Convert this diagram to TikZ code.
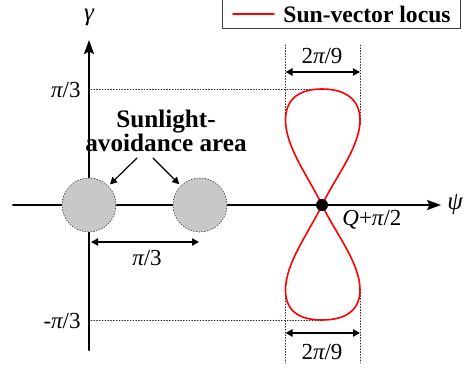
\documentclass[tikz,border=0pt]{standalone}
\usepackage{fontspec}
\setmainfont{Liberation Serif}
\usetikzlibrary{arrows.meta}

\begin{document}
\begin{tikzpicture}[x=0.5pt, y=-0.5pt, line cap=round, line join=round,
  axis/.style={line width=1pt, -{Stealth[length=7pt, width=5pt, inset=1.2pt]}},
  guide/.style={densely dotted, line width=0.4pt, black!85},
  dim/.style={line width=0.8pt, {Triangle[length=3.5pt, width=3.6pt]}-{Triangle[length=3.5pt, width=3.6pt]}},
  ptr/.style={line width=0.6pt, -{Triangle[length=3.5pt, width=3.6pt]}, shorten >=1pt},
  lab/.style={font=\fontsize{11.5}{12}\selectfont, inner sep=1pt}]
\definecolor{sunred}{HTML}{FF0000}
\definecolor{avoidgray}{HTML}{C8C8C8}
\useasboundingbox (0,0) rectangle (474,374);
% ---- axes ----
\coordinate (xs) at (13,205);
\coordinate (xe) at (441,205);
\coordinate (ys) at (89,350);
\coordinate (ye) at (89,40);
\draw[axis] (xs) -- (xe);
\draw[axis] (ys) -- (ye);
\node[lab, font=\fontsize{12.5}{12}\selectfont\itshape, anchor=west] (psi) at (445,205) {ψ};
\node[lab, font=\fontsize{12.5}{12}\selectfont\itshape] (gam) at (89,17) {γ};
\node[lab, anchor=east] (gtop) at (83,90) {{\itshape π}/3};
\node[lab, anchor=east] (gbot) at (83,321) {-{\itshape π}/3};
% ---- guide lines ----
\foreach \y/\n in {89/t, 320/b} {
  \coordinate (h\n a) at (91,\y);
  \coordinate (h\n b) at (322,\y);
  \draw[guide] (h\n a) -- (h\n b);
}
\foreach \x/\n in {285.5/l, 360/r} {
  \coordinate (v\n a) at (\x,45);
  \coordinate (v\n b) at (\x,125);
  \coordinate (v\n c) at (\x,290);
  \coordinate (v\n d) at (\x,363);
  \draw[guide] (v\n a) -- (v\n b);
  \draw[guide] (v\n c) -- (v\n d);
}
% ---- width of the locus ----
\foreach \y/\ly/\n in {72/56/t, 333/352/b} {
  \coordinate (w\n a) at (285.5,\y);
  \coordinate (w\n b) at (360,\y);
  \draw[dim] (w\n a) -- (w\n b);
  \node[lab] (w\n l) at (322,\ly) {2{\itshape π}/9};
}
% ---- sunlight-avoidance areas ----
\foreach \x/\n in {89/sa, 200/sb}
  \node[circle, fill=avoidgray, draw=black!70, densely dotted, line width=0.4pt,
        minimum size=27pt, inner sep=0pt] (\n) at (\x,205) {};
\node[lab, font=\fontsize{12.6}{12}\selectfont\bfseries, align=center] (sal) at (166,131) {Sunlight-\\avoidance area};
\coordinate (pa) at (137,158);
\coordinate (pb) at (153,158);
\draw[ptr] (pa) -- (sa);
\draw[ptr] (pb) -- (sb);
\coordinate (da) at (91,242);
\coordinate (db) at (199,242);
\draw[dim] (da) -- (db);
\node[lab] (dl) at (147,258) {{\itshape π}/3};
% ---- sun-vector locus ----
\coordinate (q) at (322,205);
\draw[sunred, line width=0.8pt]
  (q) .. controls (308,176) and (285.5,147) .. (285.5,120)
      .. controls (285.5,100) and (298,89) .. (322,89)
      .. controls (346,89) and (360,100) .. (360,120)
      .. controls (360,147) and (336,176) .. (q)
      .. controls (308,234) and (285.5,263) .. (285.5,290)
      .. controls (285.5,310) and (298,320) .. (322,320)
      .. controls (346,320) and (360,310) .. (360,290)
      .. controls (360,263) and (336,234) .. (q);
\node[circle, fill=black, inner sep=0pt, minimum size=6pt] (qdot) at (q) {};
\node[lab, anchor=west] (ql) at (340,220) {\textit{Q}+{\itshape π}/2};
% ---- legend ----
\coordinate (lga) at (222,-3);
\coordinate (lgb) at (460,29);
\draw[black!75, line width=0.5pt] (lga) rectangle (lgb);
\coordinate (lla) at (233,14);
\coordinate (llb) at (274,14);
\draw[sunred, line width=0.8pt] (lla) -- (llb);
\node[lab, font=\fontsize{11.8}{12}\selectfont\bfseries, anchor=west] (lgt) at (281,14) {Sun-vector locus};
\end{tikzpicture}
\end{document}
